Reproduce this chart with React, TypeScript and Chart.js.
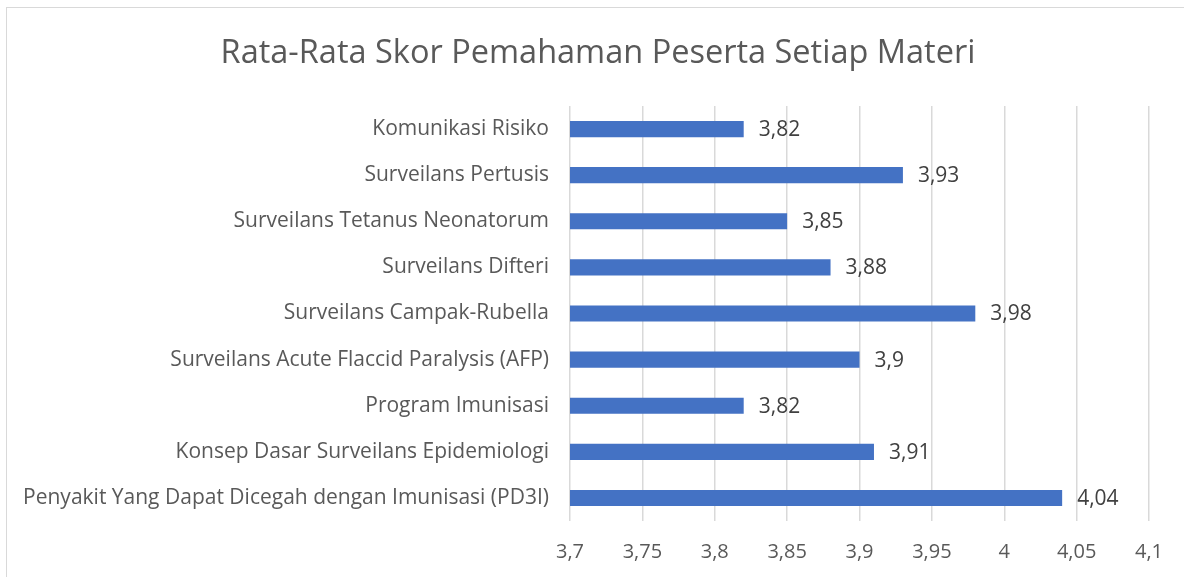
import React, { useEffect, useRef } from "react";
import { Chart, registerables } from "chart.js";

Chart.register(...registerables);

const titleText = "Rata-Rata Skor Pemahaman Peserta Setiap Materi";
const categories = [
  "Komunikasi Risiko",
  "Surveilans Pertusis",
  "Surveilans Tetanus Neonatorum",
  "Surveilans Difteri",
  "Surveilans Campak-Rubella",
  "Surveilans Acute Flaccid Paralysis (AFP)",
  "Program Imunisasi",
  "Konsep Dasar Surveilans Epidemiologi",
  "Penyakit Yang Dapat Dicegah dengan Imunisasi (PD3I)",
];
const scores = [3.82, 3.93, 3.85, 3.88, 3.98, 3.9, 3.82, 3.91, 4.04];
const axisMin = 3.7;
const axisMax = 4.1;
const axisStep = 0.05;

const FONT = "'Open Sans', 'DejaVu Sans', sans-serif";
const fmt = (v: number) => String(Math.round(v * 100) / 100).replace(".", ",");

const valueLabels = {
  id: "valueLabels",
  afterDatasetsDraw(chart: any) {
    const ctx = chart.ctx;
    const meta = chart.getDatasetMeta(0);
    ctx.save();
    ctx.font = `21px ${FONT}`;
    ctx.fillStyle = "#404040";
    ctx.textAlign = "left";
    ctx.textBaseline = "middle";
    meta.data.forEach((bar: any, i: number) => {
      const v = chart.data.datasets[0].data[i];
      ctx.fillText(fmt(v), bar.x + 15, bar.y + 1);
    });
    ctx.restore();
  },
};

const titleDraw = {
  id: "titleDraw",
  afterDraw(chart: any) {
    const ctx = chart.ctx;
    ctx.save();
    ctx.font = `32.5px ${FONT}`;
    ctx.fillStyle = "#595959";
    ctx.textAlign = "center";
    ctx.textBaseline = "alphabetic";
    ctx.fillText(titleText, 598, 63);
    ctx.restore();
  },
};

export default function App() {
  const ref = useRef<HTMLCanvasElement | null>(null);
  useEffect(() => {
    if (!ref.current) return;
    const chart = new Chart(ref.current, {
      type: "bar",
      data: {
        labels: categories,
        datasets: [
          {
            data: scores,
            backgroundColor: "#4472C4",
            borderWidth: 0,
            barPercentage: 0.35,
            categoryPercentage: 1,
          },
        ],
      },
      plugins: [valueLabels, titleDraw],
      options: {
        indexAxis: "y",
        animation: false,
        responsive: false,
        maintainAspectRatio: false,
        layout: { padding: { left: 0, right: 35, top: 106, bottom: 0 } },
        plugins: {
          legend: { display: false },
          tooltip: { enabled: false },
          title: { display: false },
        },
        scales: {
          x: {
            min: axisMin,
            max: axisMax,
            border: { display: false },
            grid: {
              color: "#d9d9d9",
              lineWidth: 1.5,
              drawTicks: false,
            },
            ticks: {
              stepSize: axisStep,
              color: "#595959",
              font: { family: FONT, size: 20 },
              padding: 19,
              callback: (v: any) => fmt(Number(v)),
            },
            afterFit: (s: any) => {
              s.height = 56;
            },
          },
          y: {
            border: { display: false },
            grid: { display: false, drawTicks: false },
            ticks: {
              color: "#595959",
              font: { family: FONT, size: 21 },
              padding: 21,
              autoSkip: false,
            },
            afterFit: (s: any) => {
              s.width = 570;
            },
          },
        },
      },
    });
    return () => chart.destroy();
  }, []);

  return (
    <div style={{ position: "fixed", left: 0, top: 0, width: 1184, height: 577, background: "#fff", overflow: "hidden" }}>
      <div
        style={{
          position: "absolute",
          left: 6,
          top: 7,
          width: 1200,
          height: 600,
          border: "1.5px solid #d9d9d9",
        }}
      />
      <canvas ref={ref} width={1184} height={577} style={{ position: "absolute", left: 0, top: 0 }} />
    </div>
  );
}
